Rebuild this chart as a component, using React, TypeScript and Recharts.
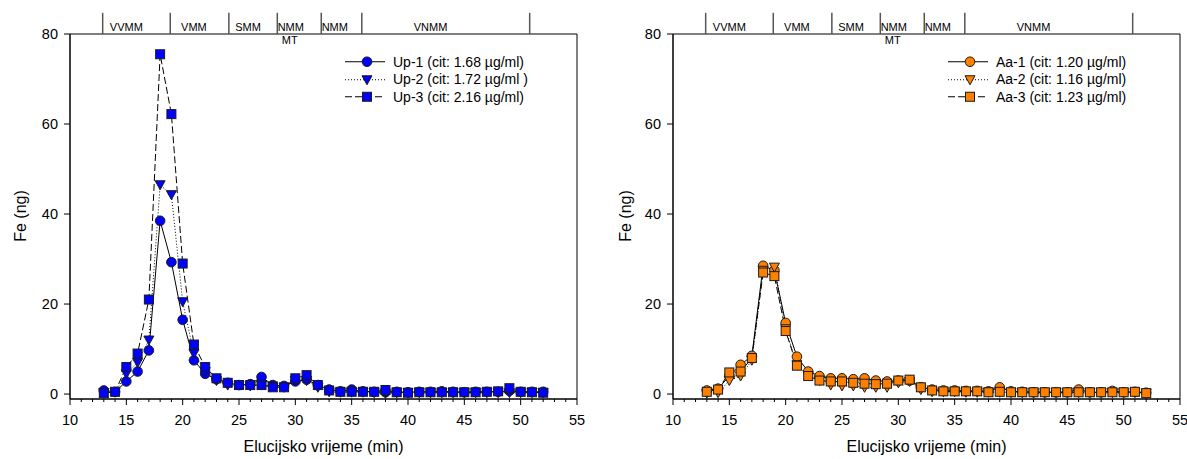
import { LineChart, Line, XAxis, YAxis, ReferenceArea, ReferenceLine, ReferenceDot, Legend } from 'recharts';

// elution time (min)
const minutes = [
  13, 14, 15, 16, 17, 18, 19, 20, 21, 22, 23, 24, 25, 26, 27, 28, 29, 30, 31, 32,
  33, 34, 35, 36, 37, 38, 39, 40, 41, 42, 43, 44, 45, 46, 47, 48, 49, 50, 51, 52,
];

// Fe (ng) — Up samples
const up1 = [
  0.8, 0.5, 2.8, 5.0, 9.7, 38.5, 29.3, 16.5, 7.5, 4.5, 3.3, 2.5, 2.0, 2.2, 3.8, 2.0, 1.8, 2.8, 3.2, 2.0,
  1.0, 0.6, 1.0, 0.6, 0.5, 0.4, 0.5, 0.4, 0.5, 0.5, 0.6, 0.5, 0.4, 0.5, 0.5, 0.5, 0.7, 0.5, 0.5, 0.5,
];
const up2 = [
  0.3, 0.4, 4.5, 7.0, 12.0, 46.5, 44.3, 20.5, 9.0, 5.0, 3.0, 2.0, 2.0, 1.8, 2.0, 1.8, 1.5, 3.0, 3.0, 1.5,
  0.5, 0.4, 0.4, 0.4, 0.3, 0.2, 0.3, 0.3, 0.3, 0.3, 0.3, 0.3, 0.3, 0.3, 0.3, 0.3, 0.3, 0.3, 0.3, 0.3,
];
const up3 = [
  0.2, 0.5, 6.0, 9.0, 21.0, 75.5, 62.2, 29.0, 11.0, 6.0, 3.5, 2.5, 2.0, 2.0, 2.0, 1.5, 1.5, 3.5, 4.2, 2.0,
  0.8, 0.5, 0.5, 0.5, 0.5, 0.9, 0.4, 0.3, 0.4, 0.4, 0.4, 0.4, 0.4, 0.4, 0.5, 0.6, 1.3, 0.5, 0.4, 0.3,
];

// Fe (ng) — Aa samples
const aa1 = [
  0.8, 1.2, 4.0, 6.5, 8.5, 28.5, 27.5, 15.8, 8.3, 5.0, 4.0, 3.5, 3.5, 3.3, 3.5, 3.0, 2.8, 3.0, 3.0, 1.5,
  1.0, 0.8, 0.8, 0.7, 0.7, 0.6, 1.5, 0.6, 0.5, 0.4, 0.4, 0.4, 0.4, 1.0, 0.4, 0.4, 0.7, 0.4, 0.5, 0.3,
];
const aa2 = [
  0.2, 0.3, 3.0, 4.0, 7.5, 27.5, 28.2, 14.5, 6.5, 4.0, 3.0, 2.0, 1.8, 1.8, 1.5, 1.5, 1.5, 2.5, 2.8, 1.0,
  0.5, 0.5, 0.5, 0.4, 0.4, 0.4, 0.4, 0.3, 0.3, 0.3, 0.3, 0.3, 0.3, 0.3, 0.3, 0.3, 0.3, 0.3, 0.3, 0.2,
];
const aa3 = [
  0.5, 1.0, 4.8, 5.0, 8.0, 27.0, 26.2, 14.0, 6.3, 4.0, 3.0, 2.8, 2.8, 2.5, 2.3, 2.2, 2.3, 3.0, 3.2, 1.5,
  0.8, 0.6, 0.6, 0.6, 0.6, 0.4, 0.5, 0.4, 0.4, 0.4, 0.4, 0.4, 0.4, 0.4, 0.4, 0.4, 0.4, 0.4, 0.5, 0.2,
];

const upNames = ['Up-1 (cit: 1.68 µg/ml)', 'Up-2 (cit: 1.72 µg/ml )', 'Up-3 (cit: 2.16 µg/ml)'];
const aaNames = ['Aa-1 (cit: 1.20 µg/ml)', 'Aa-2 (cit: 1.16 µg/ml)', 'Aa-3 (cit: 1.23 µg/ml)'];

// molecular mass zones along the top
const zoneBounds = [12.9, 18.9, 24.1, 28.4, 32.3, 35.9, 50.8];
const zoneNames = ['VVMM', 'VMM', 'SMM', 'NMM', 'NMM', 'VNMM'];
const zoneCenters = [15.0, 21.0, 25.8, 29.6, 33.5, 42.0];

const xMajor = [10, 15, 20, 25, 30, 35, 40, 45, 50, 55];
const yTicks = [0, 20, 40, 60, 80];

const xTicks: number[] = [];
for (let t = 10; t <= 55; t++) xTicks.push(t);

const FONT = '"Liberation Sans", Arial, sans-serif';
const BLUE = '#0000ff';
const ORANGE = '#ff8000';

type Shape = 'circle' | 'triangle' | 'square';
const shapes: Shape[] = ['circle', 'triangle', 'square'];
const dashes = [undefined, '1 2', '7 3'];

const Marker = ({ cx, cy, shape, fill }: { cx: number; cy: number; shape: Shape; fill: string }) => {
  const stroke = '#1a1a1a';
  if (shape === 'circle') return <circle cx={cx} cy={cy} r={4.8} fill={fill} stroke={stroke} strokeWidth={1} />;
  if (shape === 'square')
    return <rect x={cx - 4.5} y={cy - 4.5} width={9} height={9} fill={fill} stroke={stroke} strokeWidth={1} />;
  return (
    <polygon
      points={`${cx - 5},${cy - 4} ${cx + 5},${cy - 4} ${cx},${cy + 5}`}
      fill={fill}
      stroke={stroke}
      strokeWidth={1}
    />
  );
};

const makeDot = (shape: Shape, fill: string) => (props: any) => {
  if (props.cx == null || props.cy == null) return <g key={`${shape}-${props.index}`} />;
  return <Marker key={`${shape}-${props.index}`} cx={props.cx} cy={props.cy} shape={shape} fill={fill} />;
};

const XTick = (props: any) => {
  const { x, y, payload } = props;
  const v = payload.value;
  const major = xMajor.includes(v);
  return (
    <g>
      <line x1={x} x2={x} y1={y} y2={y + (major ? 6 : 3)} stroke="#000" />
      {major && (
        <text x={x} y={y + 21} textAnchor="middle" dominantBaseline="central" fontSize={14.5} fill="#000" fontFamily={FONT}>
          {v}
        </text>
      )}
    </g>
  );
};

const LegendBox = ({ names, fill }: { names: string[]; fill: string }) => (
  <div style={{ fontFamily: FONT, fontSize: 14, color: '#000' }}>
    {names.map((n, i) => (
      <div key={n} style={{ display: 'flex', alignItems: 'center', height: 17.5 }}>
        <svg width={48} height={17.5}>
          <line x1={0} x2={40} y1={8.75} y2={8.75} stroke="#000" strokeDasharray={dashes[i]} />
          <Marker cx={22} cy={8.75} shape={shapes[i]} fill={fill} />
        </svg>
        <span style={{ whiteSpace: 'nowrap' }}>{n}</span>
      </div>
    ))}
  </div>
);

interface PanelProps {
  series: number[][];
  names: string[];
  fill: string;
  width: number;
  marginLeft: number;
  marginRight: number;
  yTitleGap: number;
}

const Panel = ({ series, names, fill, width, marginLeft, marginRight, yTitleGap }: PanelProps) => {
  const rows = minutes.map((t, i) => ({ t, s0: series[0][i], s1: series[1][i], s2: series[2][i] }));
  const plotLeft = marginLeft + 40;
  return (
    <LineChart
      width={width}
      height={459}
      data={rows}
      margin={{ top: 34, right: marginRight, bottom: 0, left: marginLeft }}
      style={{ fontFamily: FONT }}
    >
      <XAxis
        dataKey="t"
        type="number"
        domain={[10, 55]}
        ticks={xTicks}
        interval={0}
        allowDataOverflow
        height={60}
        tickSize={0}
        tickMargin={0}
        tickLine={false}
        tick={(p: any) => <XTick {...p} />}
        axisLine={{ stroke: '#000' }}
        label={{
          content: ({ viewBox }: any) => (
            <text
              x={viewBox.x + viewBox.width / 2}
              y={viewBox.y + 47}
              textAnchor="middle"
              dominantBaseline="central"
              fontSize={16}
              fill="#000"
              fontFamily={FONT}
            >
              Elucijsko vrijeme (min)
            </text>
          ),
        }}
      />
      <YAxis
        type="number"
        domain={[-1.1, 80]}
        ticks={yTicks}
        interval={0}
        allowDataOverflow
        width={40}
        tickSize={6}
        tickMargin={6}
        tick={{ fontSize: 14.5, fill: '#000', fontFamily: FONT }}
        tickLine={{ stroke: '#000' }}
        axisLine={{ stroke: '#000' }}
        label={{
          content: () => (
            <text
              x={plotLeft - yTitleGap}
              y={216}
              transform={`rotate(-90 ${plotLeft - yTitleGap} 216)`}
              textAnchor="middle"
              dominantBaseline="central"
              fontSize={16}
              fill="#000"
              fontFamily={FONT}
            >
              Fe (ng)
            </text>
          ),
        }}
      />
      <ReferenceArea x1={10} x2={55} y1={-1.1} y2={80} fill="none" stroke="#000" strokeWidth={1} ifOverflow="visible" />
      {zoneBounds.map((b) => (
        <ReferenceLine
          key={`zb-${b}`}
          segment={[{ x: b, y: 80 }, { x: b, y: 84.7 }]}
          stroke="#555"
          strokeWidth={1.5}
          ifOverflow="visible"
        />
      ))}
      {zoneNames.map((n, i) => (
        <ReferenceDot
          key={`zn-${i}`}
          x={zoneCenters[i]}
          y={81.6}
          r={0}
          fill="none"
          stroke="none"
          ifOverflow="visible"
          label={{ value: n, position: 'center', fontSize: 11, fill: '#000', fontFamily: FONT }}
        />
      ))}
      <ReferenceDot
        x={29.5}
        y={78.6}
        r={0}
        fill="none"
        stroke="none"
        ifOverflow="visible"
        label={{ value: 'MT', position: 'center', fontSize: 11, fill: '#000', fontFamily: FONT }}
      />
      {[0, 1, 2].map((i) => (
        <Line
          key={`s${i}`}
          type="linear"
          dataKey={`s${i}`}
          name={names[i]}
          stroke="#000"
          strokeWidth={1}
          strokeDasharray={dashes[i]}
          dot={makeDot(shapes[i], fill)}
          activeDot={false}
          isAnimationActive={false}
        />
      ))}
      <Legend
        layout="vertical"
        align="center"
        verticalAlign="middle"
        content={() => <LegendBox names={names} fill={fill} />}
        wrapperStyle={{ position: 'absolute', left: plotLeft + 275, top: 53, right: 'auto', bottom: 'auto', width: 'auto' }}
      />
    </LineChart>
  );
};

export default function App() {
  return (
    <div style={{ position: 'absolute', left: 0, top: 0, width: 1187, height: 459, background: '#fff', display: 'flex' }}>
      <Panel series={[up1, up2, up3]} names={upNames} fill={BLUE} width={600} marginLeft={30} marginRight={23} yTitleGap={50} />
      <Panel series={[aa1, aa2, aa3]} names={aaNames} fill={ORANGE} width={587} marginLeft={33} marginRight={7} yTitleGap={48} />
    </div>
  );
}
